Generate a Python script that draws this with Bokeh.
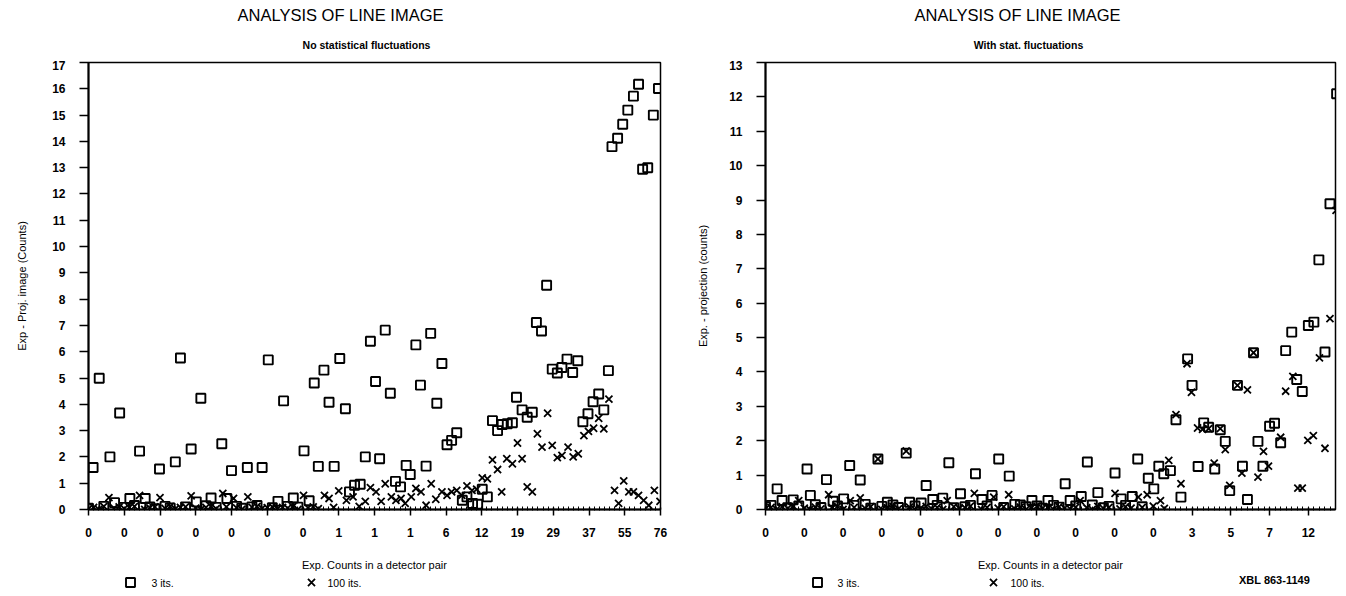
from bokeh.plotting import figure
from bokeh.layouts import row, column
from bokeh.models import FixedTicker
from bokeh.core.properties import value
from bokeh.embed import file_html
from bokeh.resources import INLINE

# ---------------- data: left panel (No statistical fluctuations) ----------------
L_xtick_labels = ["0", "0", "0", "0", "0", "0", "0", "1", "1", "1", "6", "12", "19", "29", "37", "55", "76"]
L_sq_x = [0.9, 2.1, 4.2, 5.1, 6.1, 8.1, 10.0, 11.1, 13.9, 17.0, 18.0, 20.1, 21.1, 22.0, 24.0, 26.1, 27.1, 28.0,
          31.1, 34.0, 35.2, 37.1, 38.2, 40.1, 42.2, 43.2, 44.2, 45.0, 46.1, 47.1, 48.1, 49.2, 50.3, 51.1, 52.1,
          53.2, 54.2, 55.2, 56.2, 57.0, 58.1, 59.1, 60.1, 61.1, 62.2, 63.0, 64.1, 65.0, 66.1, 67.0, 68.2, 69.2,
          70.2, 71.1, 72.1, 73.2, 74.1, 75.2, 76.2, 77.1, 78.1, 79.1, 80.1, 81.0, 82.0, 83.0, 83.8, 84.9, 85.9,
          86.9, 87.7, 88.7, 89.7, 90.8, 91.8, 92.7, 93.7, 94.8, 95.8, 96.8, 97.8, 98.8, 99.9, 100.9, 101.8,
          102.5, 103.6, 104.6, 105.6, 106.7, 107.7, 108.5, 109.5, 110.6, 111.6]
L_sq_y = [1.60, 4.99, 2.00, 0.26, 3.67, 0.42, 2.22, 0.42, 1.54, 1.81, 5.76, 2.30, 0.29, 4.23, 0.44, 2.50, 0.42,
          1.48, 1.60, 1.60, 5.69, 0.31, 4.13, 0.44, 2.23, 0.33, 4.81, 1.64, 5.30, 4.08, 1.64, 5.74, 3.83, 0.67,
          0.92, 0.96, 2.00, 6.40, 4.87, 1.93, 6.82, 4.42, 1.07, 0.86, 1.68, 1.33, 6.26, 4.73, 1.65, 6.70, 4.04,
          5.55, 2.46, 2.63, 2.92, 0.35, 0.48, 0.23, 0.20, 0.77, 0.48, 3.38, 3.00, 3.23, 3.26, 3.30, 4.27, 3.79,
          3.51, 3.70, 7.11, 6.79, 8.53, 5.34, 5.19, 5.40, 5.72, 5.21, 5.66, 3.34, 3.64, 4.10, 4.39, 3.79, 5.28,
          13.80, 14.12, 14.65, 15.19, 15.72, 16.17, 12.94, 13.00, 15.00, 16.01]
L_sq0_x = [0, 3, 7, 9, 12, 13, 15, 16, 19, 23, 25, 29, 30, 32, 33, 36, 39, 41]
L_sq0_y = [0.05, 0.12, 0.08, 0.15, 0.10, 0.03, 0.12, 0.06, 0.10, 0.14, 0.08, 0.12, 0.05, 0.10, 0.15, 0.07, 0.12, 0.09]
L_cr_x = [4.0, 10.0, 14.0, 20.1, 26.3, 28.4, 31.2, 42.1, 46.2, 47.1, 49.0, 50.5, 51.8, 54.2, 55.2, 56.3, 57.3,
          58.1, 59.3, 60.2, 61.2, 62.0, 63.2, 64.1, 65.1, 66.1, 67.1, 68.0, 69.2, 70.2, 71.1, 72.1, 73.1, 74.1,
          75.1, 76.0, 77.1, 78.1, 79.1, 80.1, 80.9, 81.9, 83.0, 84.0, 84.9, 85.9, 86.9, 87.9, 88.8, 89.9, 90.8,
          91.8, 92.7, 93.9, 94.9, 95.9, 97.0, 97.9, 98.9, 99.9, 100.9, 101.9, 103.0, 103.8, 104.8, 105.8, 106.7,
          107.7, 108.7, 109.7, 110.8, 111.9]
L_cr_y = [0.45, 0.54, 0.45, 0.52, 0.61, 0.42, 0.48, 0.54, 0.54, 0.42, 0.71, 0.35, 0.48, 0.31, 0.83, 0.67, 0.31,
          0.98, 0.48, 0.35, 0.42, 0.23, 0.48, 0.80, 0.67, 0.16, 0.98, 0.39, 0.67, 0.54, 0.67, 0.73, 0.54, 0.90,
          0.73, 0.77, 1.20, 1.17, 1.89, 1.52, 0.67, 1.93, 1.74, 2.53, 1.93, 0.86, 0.67, 2.88, 2.37, 3.66, 2.44,
          1.97, 2.06, 2.37, 2.00, 2.12, 2.81, 2.97, 3.09, 3.47, 3.07, 4.20, 0.73, 0.23, 1.09, 0.67, 0.67, 0.54,
          0.35, 0.16, 0.73, 0.31]
L_cr0_x = [0, 1, 2, 3, 5, 6, 7, 8, 9, 11, 12, 13, 15, 16, 17, 18, 19, 21, 22, 23, 24, 25, 27, 29, 30, 32, 33,
           34, 35, 36, 37, 38, 39, 40, 41, 43, 44, 45, 48, 53]
L_cr0_y = [0.02, 0.08, 0.0, 0.12, 0.05, 0.1, 0.03, 0.08, 0.12, 0.0, 0.06, 0.1, 0.04, 0.12, 0.02, 0.08, 0.1, 0.05,
           0.0, 0.08, 0.12, 0.03, 0.1, 0.06, 0.0, 0.09, 0.12, 0.04, 0.07, 0.1, 0.02, 0.08, 0.05, 0.11, 0.0, 0.06,
           0.1, 0.03, 0.08, 0.12]

# ---------------- data: right panel (With stat. fluctuations) ----------------
R_xtick_labels = ["0", "0", "0", "0", "0", "0", "0", "0", "0", "0", "0", "3", "5", "7", "12"]
R_sq_x = [2.1, 3.0, 5.0, 7.5, 8.1, 11.0, 12.2, 14.1, 15.2, 17.1, 18.0, 20.3, 22.0, 25.4, 26.0, 28.1, 29.0, 30.2,
          32.0, 33.1, 35.2, 37.9, 39.1, 40.9, 42.1, 44.0, 45.0, 48.1, 51.0, 54.1, 55.0, 57.0, 58.1, 60.0, 63.1,
          64.2, 66.2, 67.2, 69.1, 70.1, 71.0, 71.9, 73.1, 74.1, 75.0, 76.2, 77.0, 78.1, 79.1, 80.0, 81.1, 82.1,
          83.0, 83.8, 85.2, 86.1, 87.0, 88.1, 88.9, 89.8, 91.0, 91.9, 93.0, 93.9, 95.0, 95.9, 96.9, 98.0, 99.0,
          99.9, 101.0, 101.9, 103.1]
R_sq_y = [0.60, 0.26, 0.28, 1.18, 0.41, 0.87, 0.24, 0.31, 1.28, 0.86, 0.15, 1.47, 0.21, 1.64, 0.21, 0.19, 0.70,
          0.29, 0.33, 1.36, 0.46, 1.04, 0.29, 0.41, 1.47, 0.97, 0.15, 0.26, 0.26, 0.75, 0.26, 0.38, 1.38, 0.49,
          1.06, 0.31, 0.38, 1.47, 0.91, 0.60, 1.26, 1.04, 1.13, 2.61, 0.36, 4.38, 3.61, 1.25, 2.52, 2.39, 1.18,
          2.32, 1.98, 0.55, 3.61, 1.26, 0.29, 4.56, 1.98, 1.26, 2.42, 2.51, 1.94, 4.62, 5.16, 3.78, 3.43, 5.35,
          5.45, 7.26, 4.58, 8.89, 12.09]
R_sq0_x = [0, 1, 4, 6, 9, 10, 13, 16, 19, 21, 23, 24, 27, 31, 34, 36, 37, 40, 43, 46, 47, 49, 50, 52, 53, 56, 59,
           61, 62, 65, 68]
R_sq0_y = [0.08, 0.12, 0.05, 0.1, 0.14, 0.06, 0.1, 0.12, 0.04, 0.09, 0.13, 0.06, 0.1, 0.12, 0.05, 0.08, 0.12, 0.1,
           0.06, 0.13, 0.08, 0.1, 0.04, 0.12, 0.07, 0.1, 0.13, 0.05, 0.09, 0.12, 0.08]
R_cr_x = [6.0, 11.4, 15.3, 17.1, 20.3, 25.4, 32.8, 37.7, 41.2, 43.9, 56.8, 63.1, 67.3, 68.9, 71.3, 72.8, 74.1,
          75.0, 76.1, 76.9, 78.0, 78.9, 80.0, 81.0, 82.1, 83.0, 83.8, 85.2, 86.0, 87.0, 88.1, 88.9, 89.9, 90.8,
          93.0, 93.9, 95.2, 96.1, 96.9, 97.9, 98.9, 100.0, 101.0, 101.9, 103.0]
R_cr_y = [0.26, 0.43, 0.26, 0.34, 1.47, 1.70, 0.26, 0.47, 0.36, 0.43, 0.26, 0.47, 0.36, 0.43, 0.26, 1.43, 2.76,
          0.75, 4.24, 3.41, 2.37, 2.33, 2.35, 1.35, 2.35, 1.74, 0.70, 3.61, 1.06, 3.48, 4.56, 0.94, 1.69, 1.26,
          2.10, 3.44, 3.87, 0.62, 0.62, 2.01, 2.15, 4.41, 1.78, 5.55, 8.70]
R_cr0_x = [0, 1, 2, 3, 4, 5, 7, 8, 9, 10, 12, 13, 14, 16, 18, 19, 21, 22, 23, 24, 26, 27, 28, 29, 30, 31, 32, 34,
           35, 36, 37, 39, 40, 42, 43, 45, 46, 47, 48, 49, 50, 51, 52, 53, 54, 55, 56, 58, 59, 60, 61, 62, 64, 65,
           66, 68, 70, 72]
R_cr0_y = [0.02, 0.06, 0.0, 0.08, 0.03, 0.1, 0.04, 0.0, 0.07, 0.02, 0.05, 0.09, 0.0, 0.06, 0.03, 0.08, 0.0, 0.05,
           0.1, 0.02, 0.07, 0.0, 0.04, 0.09, 0.02, 0.06, 0.0, 0.08, 0.03, 0.05, 0.1, 0.0, 0.06, 0.04, 0.08, 0.02,
           0.07, 0.0, 0.05, 0.1, 0.03, 0.06, 0.0, 0.08, 0.04, 0.02, 0.07, 0.05, 0.0, 0.09, 0.03, 0.06, 0.02, 0.08,
           0.04, 0.06, 0.1, 0.03]

TITLE = "ANALYSIS OF LINE IMAGE"
LEGEND_LABELS = ["3 its.", "100 its."]
FIG_CODE = "XBL 863-1149"
FONT = "Liberation Sans"
PTS_PER_TICK = 7

TOP_H = 60      # strip with the titles
BOT_H = 19      # strip with the legend
SQ_SIZE, SQ_LW = 9, 1.9
CR_SIZE, CR_LW = 10, 1.8


def pairs(xs, ys):
    n = min(len(xs), len(ys))
    return list(xs[:n]), list(ys[:n])


def strip(W, Hs):
    s = figure(width=W, height=Hs, x_range=(0, W), y_range=(0, Hs), output_backend="svg",
               toolbar_location=None, min_border=0, x_axis_location=None, y_axis_location=None)
    s.grid.visible = False
    s.outline_line_color = None
    s.background_fill_color = "white"
    s.border_fill_color = "white"
    return s


def title_strip(W, subtitle, title_cx, sub_cx):
    s = strip(W, TOP_H)
    s.text(x=[title_cx], y=[TOP_H - 14], text=[TITLE], text_font=value(FONT),
           text_font_size=value("16.5px"), text_align="center", text_baseline="middle", text_color="black")
    s.text(x=[sub_cx], y=[TOP_H - 44], text=[subtitle], text_font=value(FONT),
           text_font_size=value("10.5px"), text_font_style="bold",
           text_align="center", text_baseline="middle", text_color="black")
    return s


def legend_strip(W, sq_cx, sq_tx, cr_cx, cr_tx, code_cx=None):
    s = strip(W, BOT_H)
    yc = BOT_H - 7
    s.scatter(x=[sq_cx], y=[yc], marker="square", size=SQ_SIZE, fill_color=None,
              line_color="black", line_width=SQ_LW)
    s.scatter(x=[cr_cx], y=[yc], marker="x", size=CR_SIZE, line_color="black", line_width=CR_LW)
    s.text(x=[sq_tx, cr_tx], y=[yc, yc], text=LEGEND_LABELS, text_font=value(FONT),
           text_font_size=value("10.5px"), text_align="left", text_baseline="middle", text_color="black")
    if code_cx is not None:
        s.text(x=[code_cx], y=[yc + 3], text=[FIG_CODE], text_font=value(FONT),
               text_font_size=value("11px"), text_font_style="bold",
               text_align="center", text_baseline="middle", text_color="black")
    return s


def panel(W, Hp, bl, br, bb, ymax, xend, xlabels, sq, sq0, cr, cr0, ylabel, ylab_standoff):
    p = figure(width=W, height=Hp, x_range=(0, xend), y_range=(0, ymax),
               output_backend="svg", toolbar_location=None,
               min_border_left=bl, min_border_right=br, min_border_top=2, min_border_bottom=bb)
    p.grid.visible = False
    p.background_fill_color = "white"
    p.border_fill_color = "white"
    p.outline_line_color = "black"
    p.outline_line_width = 1.5

    sx, sy = pairs(sq[0] + sq0[0], sq[1] + sq0[1])
    cx, cy = pairs(cr[0] + cr0[0], cr[1] + cr0[1])
    p.scatter(sx, sy, marker="square", size=SQ_SIZE, fill_color=None, line_color="black", line_width=SQ_LW)
    p.scatter(cx, cy, marker="x", size=CR_SIZE, line_color="black", line_width=CR_LW)

    # x axis
    ticks = [i * PTS_PER_TICK for i in range(len(xlabels))]
    p.xaxis.ticker = FixedTicker(ticks=ticks, minor_ticks=list(range(0, int(xend) + 1)))
    p.xaxis.major_label_overrides = {t: lab for t, lab in zip(ticks, xlabels)}
    p.xaxis.axis_label = "Exp. Counts in a detector pair"
    p.xaxis.major_tick_out = 6
    p.xaxis.major_tick_in = 2
    p.xaxis.minor_tick_in = 3
    p.xaxis.minor_tick_out = 1
    p.xaxis.major_label_standoff = 12
    p.xaxis.axis_label_standoff = 19

    # y axis
    p.yaxis.ticker = FixedTicker(ticks=list(range(0, ymax + 1)), minor_ticks=[])
    p.yaxis.axis_label = ylabel
    p.yaxis.major_tick_out = 9
    p.yaxis.major_tick_in = 0
    p.yaxis.major_label_standoff = 14
    p.yaxis.axis_label_standoff = ylab_standoff

    for ax in (p.xaxis[0], p.yaxis[0]):
        ax.axis_line_width = 2
        ax.major_tick_line_width = 1.5
        ax.minor_tick_line_width = 1
        ax.major_label_text_font = FONT
        ax.major_label_text_font_style = "bold"
        ax.major_label_text_font_size = "12px"
        ax.major_label_text_color = "black"
        ax.axis_label_text_font = FONT
        ax.axis_label_text_font_style = "normal"
        ax.axis_label_text_font_size = "11px"
        ax.axis_label_text_color = "black"
    return p


LW, RW = 680, 666
left = panel(LW, 515, 88, 20, 64, 17, 112, L_xtick_labels,
             (L_sq_x, L_sq_y), (L_sq0_x, L_sq0_y), (L_cr_x, L_cr_y), (L_cr0_x, L_cr0_y),
             "Exp - Proj. image (Counts)", 21)
right = panel(RW, 515, 85, 11, 66, 13, 102.9, R_xtick_labels,
              (R_sq_x, R_sq_y), (R_sq0_x, R_sq0_y), (R_cr_x, R_cr_y), (R_cr0_x, R_cr0_y),
              "Exp. - projection (counts)", 17)

top_l = title_strip(LW, "No statistical fluctuations", 340, 366)
top_r = title_strip(RW, "With stat. fluctuations", 337, 348)
bot_l = legend_strip(LW, 130, 151, 311, 327)
bot_r = legend_strip(RW, 137, 157, 313, 330, code_cx=594)

layout = column(row(top_l, top_r), row(left, right), row(bot_l, bot_r))
open("out.html", "w").write(file_html(layout, INLINE))
